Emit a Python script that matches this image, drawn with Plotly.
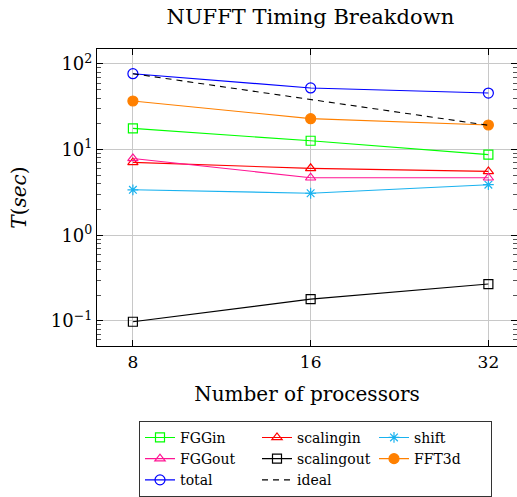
import math
import plotly.graph_objects as go

# Timing breakdown (seconds) per number of processors
processors = [8, 16, 32]
fgg_in = [17.7, 12.7, 8.75]
scaling_in = [7.1, 6.05, 5.58]
shift = [3.4, 3.1, 3.9]
fgg_out = [7.9, 4.7, 4.7]
scaling_out = [0.098, 0.18, 0.27]
fft3d = [37.0, 23.0, 19.4]
total = [77.0, 52.5, 45.8]
# ideal strong scaling from the 8-processor total
ideal = [total[0] * processors[0] / p for p in processors]

x_ticks = [8, 16, 32]
y_ticks = [0.1, 1, 10, 100]
y_tick_text = ["10<sup>−1</sup>", "10<sup>0</sup>", "10<sup>1</sup>", "10<sup>2</sup>"]

SERIF = "DejaVu Serif, Liberation Serif, serif"

series = [
    ("FGGin", fgg_in, "#00ff00", "square-open", 9),
    ("scalingin", scaling_in, "#ff0000", "triangle-up-open", 9),
    ("shift", shift, "#1ab2ef", "asterisk-open", 9),
    ("FGGout", fgg_out, "#ff1493", "triangle-up-open", 9),
    ("scalingout", scaling_out, "#000000", "square-open", 9),
    ("FFT3d", fft3d, "#ff8000", "circle", 10),
    ("total", total, "#0000ff", "circle-open", 10),
]

fig = go.Figure()
for name, vals, color, symbol, size in series:
    fig.add_trace(go.Scatter(
        x=processors, y=vals, name=name, mode="lines+markers",
        line=dict(color=color, width=1.1),
        marker=dict(symbol=symbol, size=size, color=color,
                    line=dict(color=color, width=1.2)),
    ))
fig.add_trace(go.Scatter(
    x=processors, y=ideal, name="ideal", mode="lines",
    line=dict(color="black", width=1.1, dash="6px,5px"),
))

fig.update_layout(
    width=517, height=497,
    margin=dict(l=97, r=0, t=49, b=151, autoexpand=False),
    paper_bgcolor="white", plot_bgcolor="white",
    font=dict(family=SERIF, size=16, color="black"),
    title=dict(text="NUFFT Timing Breakdown", x=0.508, xref="paper",
               y=0.966, yref="container", xanchor="center", yanchor="middle",
               font=dict(family=SERIF, size=21)),
    showlegend=True,
    legend=dict(
        orientation="h", x=0.1, y=-0.252, xanchor="left", yanchor="top",
        bordercolor="#333333", borderwidth=1, bgcolor="white",
        font=dict(family=SERIF, size=14), entrywidth=72, entrywidthmode="pixels",
        itemwidth=30, tracegroupgap=0,
    ),
)

fig.update_xaxes(
    type="log", range=[2.798 * math.log10(2), 5.161 * math.log10(2)],
    tickvals=x_ticks, ticktext=[str(v) for v in x_ticks],
    ticks="inside", ticklen=6, tickcolor="black",
    showline=True, linecolor="black", linewidth=1.2, mirror="ticks",
    showgrid=True, gridcolor="#c8c8c8", gridwidth=1, zeroline=False,
    tickfont=dict(size=17),
    title=dict(text="Number of processors", standoff=16, font=dict(size=20)),
)
fig.update_yaxes(
    type="log", range=[-1.292, 2.175],
    tickvals=y_ticks, ticktext=y_tick_text,
    ticks="inside", ticklen=6, tickcolor="black",
    minor=dict(ticks="inside", ticklen=3.5, tickcolor="#555555", dtick="D1", showgrid=False),
    showline=True, linecolor="black", linewidth=1.2, mirror="ticks",
    showgrid=True, gridcolor="#c8c8c8", gridwidth=1, zeroline=False,
    tickfont=dict(size=18),
    title=dict(text="<i>T</i>(<i>sec</i>)", standoff=18, font=dict(size=20)),
)

fig.write_html("out.html")
